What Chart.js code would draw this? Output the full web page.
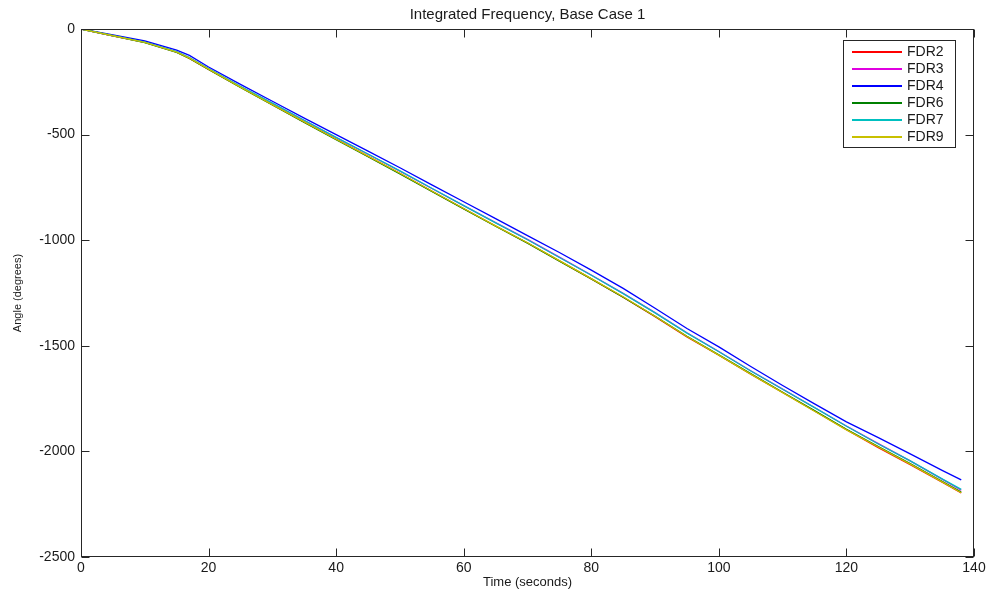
<!DOCTYPE html>
<html>
<head>
<meta charset="utf-8">
<script src="https://cdn.jsdelivr.net/npm/chart.js@4/dist/chart.umd.min.js"></script>
<style>
  html, body { margin: 0; padding: 0; background: #fff; }
  #wrap { width: 992px; height: 593px; }
</style>
</head>
<body>
<div id="wrap"><canvas id="c" width="992" height="593"></canvas></div>
<script>
// ---- data ----
const chartTitle = 'Integrated Frequency, Base Case 1';
const xTitle = 'Time (seconds)';
const yTitle = 'Angle (degrees)';
const time = [0, 5, 10, 15, 17, 20, 25, 30, 35, 40, 45, 50, 55, 60, 65, 70, 75, 80, 85, 90, 95, 100, 105, 110, 115, 120, 125, 130, 135, 138];
const fdr2 = [0, -32, -63, -110, -139, -191, -276, -358, -441, -522, -603, -684, -768, -851, -933, -1013, -1098, -1183, -1270, -1362, -1458, -1545, -1634, -1721, -1809, -1897, -1982, -2063, -2146, -2197];
const fdr3 = [0, -32, -62, -108, -136, -188, -272, -352, -433, -514, -593, -673, -755, -836, -917, -996, -1080, -1165, -1252, -1343, -1438, -1527, -1618, -1705, -1792, -1880, -1963, -2045, -2131, -2184];
const fdr4 = [0, -28, -56, -100, -125, -180, -262, -342, -422, -500, -578, -657, -738, -818, -898, -978, -1058, -1142, -1228, -1322, -1418, -1505, -1598, -1688, -1775, -1860, -1935, -2012, -2090, -2135];
const fdr6 = [0, -32, -64, -111, -139, -192, -277, -360, -442, -524, -605, -686, -769, -852, -934, -1014, -1099, -1183, -1270, -1360, -1455, -1543, -1632, -1720, -1807, -1895, -1977, -2058, -2142, -2193];
const fdr7 = [0, -31, -62, -107, -135, -187, -271, -351, -432, -513, -592, -672, -754, -836, -918, -998, -1082, -1166, -1253, -1344, -1440, -1528, -1619, -1706, -1793, -1881, -1965, -2045, -2130, -2180];
const fdr9 = [0, -32, -63, -110, -138, -190, -275, -358, -440, -522, -602, -683, -767, -850, -932, -1012, -1097, -1182, -1268, -1360, -1456, -1544, -1634, -1722, -1810, -1898, -1979, -2060, -2144, -2196];
const seriesNames = ['FDR2', 'FDR3', 'FDR4', 'FDR6', 'FDR7', 'FDR9'];
const seriesValues = [fdr2, fdr3, fdr4, fdr6, fdr7, fdr9];
const xMin = 0, xMax = 140, xStep = 20;
const yMin = -2500, yMax = 0, yStep = 500;

// ---- styles ----
const colors = ['#ff0000', '#e000e0', '#0000ff', '#008000', '#00c0c0', '#c8c000'];
const FONT = '"Liberation Sans", Arial, Helvetica, sans-serif';
const TEXT = '#1a1a1a';

const datasets = seriesNames.map((name, i) => ({
  label: name,
  data: time.map((t, k) => ({ x: t, y: seriesValues[i][k] })),
  borderColor: colors[i],
  backgroundColor: colors[i],
  borderWidth: 1.3,
  pointRadius: 0,
  tension: 0,
  fill: false,
  order: seriesNames.length - i
}));

const framePlugin = {
  id: 'frame',
  afterDraw(chart) {
    const { ctx, chartArea: a, scales } = chart;
    ctx.save();
    // title centred over the axes
    ctx.fillStyle = TEXT;
    ctx.font = '15px ' + FONT;
    ctx.textAlign = 'center';
    ctx.textBaseline = 'middle';
    ctx.fillText(chartTitle, (a.left + a.right) / 2, 15);

    // box
    ctx.strokeStyle = '#262626';
    ctx.lineWidth = 1;
    const L = Math.round(a.left) + 0.5, R = Math.round(a.right) - 0.5;
    const T = Math.round(a.top) + 0.5, B = Math.round(a.bottom) - 0.5;
    ctx.strokeRect(L, T, R - L, B - T);
    // inward ticks on all four sides
    const tl = 8;
    ctx.beginPath();
    scales.x.ticks.forEach(t => {
      const px = Math.round(scales.x.getPixelForValue(t.value)) + 0.5;
      ctx.moveTo(px, B); ctx.lineTo(px, B - tl);
      ctx.moveTo(px, T); ctx.lineTo(px, T + tl);
    });
    scales.y.ticks.forEach(t => {
      const py = Math.round(scales.y.getPixelForValue(t.value)) + 0.5;
      ctx.moveTo(L, py); ctx.lineTo(L + tl, py);
      ctx.moveTo(R, py); ctx.lineTo(R - tl, py);
    });
    ctx.stroke();

    // legend box
    const lx = 843, ly = 40, lw = 112, lh = 107;
    ctx.fillStyle = '#ffffff';
    ctx.fillRect(lx, ly, lw, lh);
    ctx.strokeStyle = '#262626';
    ctx.lineWidth = 1;
    ctx.strokeRect(lx + 0.5, ly + 0.5, lw, lh);
    ctx.font = '14px ' + FONT;
    ctx.textAlign = 'left';
    ctx.textBaseline = 'middle';
    seriesNames.forEach((name, i) => {
      const y = Math.round(ly + 12 + i * 16.9);
      ctx.fillStyle = colors[i];
      ctx.fillRect(852, y - 1, 50, 2);
      ctx.fillStyle = TEXT;
      ctx.fillText(name, 907, y);
    });
    ctx.restore();
  }
};

const plainTick = v => String(v);

new Chart(document.getElementById('c'), {
  type: 'line',
  data: { datasets },
  options: {
    responsive: false,
    animation: false,
    layout: { padding: { top: 29, right: 18, left: 0, bottom: 0 } },
    plugins: {
      legend: { display: false },
      title: { display: false },
      tooltip: { enabled: false }
    },
    scales: {
      x: {
        type: 'linear',
        min: xMin, max: xMax,
        afterFit: s => { s.height = 36; },
        grid: { display: false, drawTicks: false },
        border: { display: false },
        ticks: { stepSize: xStep, padding: 3, color: TEXT, font: { family: FONT, size: 14 }, maxRotation: 0, callback: plainTick },
        title: { display: true, text: xTitle, color: TEXT, font: { family: FONT, size: 13 }, padding: { top: 0, bottom: 3 } }
      },
      y: {
        type: 'linear',
        min: yMin, max: yMax,
        afterFit: s => { s.width = 81; },
        grid: { display: false, drawTicks: false },
        border: { display: false },
        ticks: { stepSize: yStep, padding: 6, color: TEXT, font: { family: FONT, size: 14 }, callback: plainTick },
        title: { display: true, text: yTitle, color: TEXT, font: { family: FONT, size: 11 }, padding: { top: 11, bottom: 0 } }
      }
    }
  },
  plugins: [framePlugin]
});
</script>
</body>
</html>
